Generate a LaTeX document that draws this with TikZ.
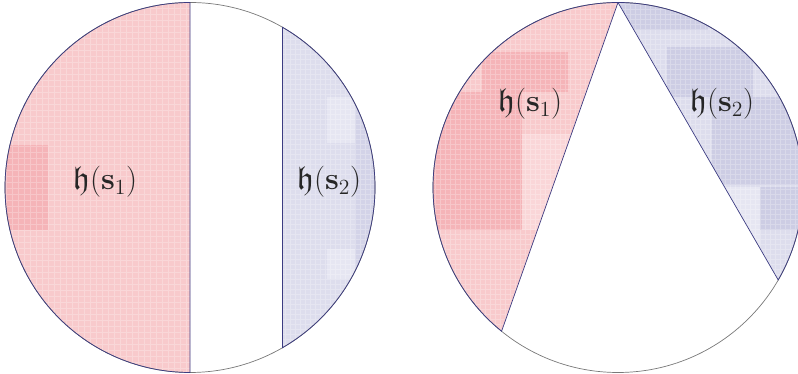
\documentclass[tikz,border=0pt]{standalone}
\usepackage{amssymb}
\usepackage{amsmath}
\usetikzlibrary{calc}
\definecolor{redbase}{RGB}{248,202,204}
\definecolor{reddark}{RGB}{245,180,184}
\definecolor{redlight}{RGB}{250,214,216}
\definecolor{bluebase}{RGB}{221,221,237}
\definecolor{bluedark}{RGB}{205,205,228}
\definecolor{bluelight}{RGB}{230,230,242}
\definecolor{rim}{RGB}{60,60,130}
\definecolor{rimgray}{RGB}{120,120,120}
\tikzset{
  rimline/.style={draw=rim, line width=0.7pt},
  circline/.style={draw=rimgray, line width=0.7pt},
  lbl/.style={font=\fontsize{22}{26}\selectfont, scale=1.5, text=black!85, inner sep=0pt},
  meshgrid/.style={draw=white, line width=0.3pt, opacity=0.25}
}
\begin{document}
\begin{tikzpicture}[x=1pt,y=1pt]
\useasboundingbox (0,0) rectangle (798,374);
\coordinate (L) at (190,186.5);
\coordinate (R) at (618,186.5);
\def\rad{185}
% ---------- left circle ----------
% red half
\begin{scope}
  \clip (190,371.5) arc[start angle=90,end angle=270,radius=\rad] -- cycle;
  \fill[redbase] (0,0) rectangle (200,374);
  \fill[reddark] (0,144) rectangle (48,229);
  \draw[meshgrid] (0,0) grid[step=6] (200,374);
\end{scope}
% blue strip
\begin{scope}
  \clip ($(L)+(-60:\rad)$) arc[start angle=-60,end angle=60,radius=\rad] -- cycle;
  \fill[bluebase] (270,0) rectangle (400,374);
  \fill[bluelight] (327,231) rectangle (400,277);
  \fill[bluelight] (327,95) rectangle (400,125);
  \fill[bluedark!60!bluebase] (355,40) rectangle (400,334);
  \draw[meshgrid] (270,0) grid[step=5] (400,374);
\end{scope}
\draw[circline] (L) circle[radius=\rad];
\draw[rimline] (190,371.5) arc[start angle=90,end angle=270,radius=\rad] -- cycle;
\draw[rimline] ($(L)+(-60:\rad)$) arc[start angle=-60,end angle=60,radius=\rad] -- cycle;
\node[lbl] (l1) at (105,192) {$\mathfrak{h}(\mathbf{s}_1)$};
\node[lbl] (l2) at (329,192) {$\mathfrak{h}(\mathbf{s}_2)$};
% ---------- right circle ----------
\begin{scope}
  \clip ($(R)+(90:\rad)$) arc[start angle=90,end angle=231,radius=\rad] -- cycle;
  \fill[redbase] (420,0) rectangle (630,374);
  \fill[reddark] (482,282) rectangle (568,322);
  \fill[reddark] (420,144) rectangle (522,282);
  \fill[redlight] (522,144) rectangle (600,240);
  \draw[meshgrid] (420,0) grid[step=5] (630,374);
\end{scope}
\begin{scope}
  \clip ($(R)+(-30:\rad)$) arc[start angle=-30,end angle=90,radius=\rad] -- cycle;
  \fill[bluebase] (600,0) rectangle (800,374);
  \fill[bluedark] (620,344) rectangle (708,374);
  \fill[bluedark] (667,277) rectangle (753,327);
  \fill[bluedark] (712,189) rectangle (800,277);
  \fill[bluedark] (760,144) rectangle (800,187);
  \fill[bluelight] (700,100) rectangle (760,187);
  \draw[meshgrid] (600,0) grid[step=5] (800,374);
\end{scope}
\draw[circline] (R) circle[radius=\rad];
\draw[rimline] ($(R)+(90:\rad)$) arc[start angle=90,end angle=231,radius=\rad] -- cycle;
\draw[rimline] ($(R)+(-30:\rad)$) arc[start angle=-30,end angle=90,radius=\rad] -- cycle;
\node[lbl] (r1) at (530,270) {$\mathfrak{h}(\mathbf{s}_1)$};
\node[lbl] (r2) at (722,270) {$\mathfrak{h}(\mathbf{s}_2)$};
\end{tikzpicture}
\end{document}
